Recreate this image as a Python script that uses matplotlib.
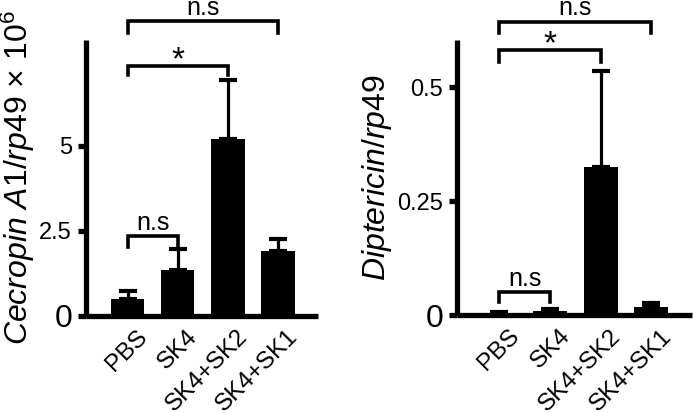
import matplotlib
matplotlib.use("Agg")
import matplotlib.pyplot as plt
from matplotlib.transforms import ScaledTranslation

plt.rcParams['font.family'] = ['Liberation Sans', 'DejaVu Sans']
plt.rcParams['mathtext.fontset'] = 'custom'
plt.rcParams['mathtext.rm'] = 'Liberation Sans'
plt.rcParams['mathtext.it'] = 'Liberation Sans:italic'

groups = ["PBS", "SK4", "SK4+SK2", "SK4+SK1"]

# Cecropin A1 / rp49 (x 10^6)
cec_mean = [0.49, 1.34, 5.20, 1.90]
cec_err = [0.24, 0.62, 1.73, 0.36]
cec_ticks = [0, 2.5, 5]
cec_ticklabels = ["0", "2.5", "5"]
# brackets: (i, j, top, leg bottom, label)
cec_brackets = [(0, 3, 8.67, 8.31, "n.s"), (0, 2, 7.34, 7.08, "*"), (0, 1, 2.34, 2.02, "n.s")]

# Diptericin / rp49
dip_mean = [0.004, 0.009, 0.326, 0.017]
dip_err = [0.002, 0.005, 0.211, 0.009]
dip_ticks = [0, 0.25, 0.5]
dip_ticklabels = ["0", "0.25", "0.5"]
dip_brackets = [(0, 3, 0.644, 0.620, "n.s"), (0, 2, 0.582, 0.556, "*"), (0, 1, 0.0505, 0.0286, "n.s")]

fig = plt.figure(figsize=(6.93, 4.13), dpi=100)
ax1 = fig.add_axes([0.124, 0.235, 0.335, 0.668])
ax2 = fig.add_axes([0.6595, 0.237, 0.339, 0.666])


def draw(ax, mean, err, ticks, ticklabels, ymax, brackets, ylabel):
    x = list(range(len(groups)))
    ax.bar(x, mean, width=0.67, color="black", zorder=2)
    ax.errorbar(x, mean, yerr=[[0] * len(err), err], fmt="none", ecolor="black",
                elinewidth=2.3, capsize=6.3, capthick=3, zorder=1)
    ax.set_xlim(-0.83, 3.8)
    ax.set_ylim(0, ymax)
    for s in ["top", "right"]:
        ax.spines[s].set_visible(False)
    for s in ["left", "bottom"]:
        ax.spines[s].set_linewidth(3.8)
        ax.spines[s].set_capstyle("butt")
    ax.set_yticks(ticks)
    ax.set_yticklabels(ticklabels, fontsize=17)
    ax.get_yticklabels()[0].set_fontsize(23)
    ax.tick_params(axis="y", length=6, width=3.8, pad=4)
    ax.tick_params(axis="x", length=0, pad=7)
    ax.set_xticks(x)
    ax.set_xticklabels(groups, rotation=45, ha="right", va="top", fontsize=17.5,
                       rotation_mode="anchor")
    shift = ScaledTranslation(9 / 100, 0, fig.dpi_scale_trans)
    for t in ax.get_xticklabels():
        t.set_transform(t.get_transform() + shift)
    ax.set_ylabel(ylabel, fontsize=23, labelpad=2)
    for i, j, top, leg, lab in brackets:
        ax.plot([i, i, j, j], [leg, top, top, leg], color="black", lw=2.6,
                clip_on=False, solid_joinstyle="miter")
        if lab == "*":
            ax.annotate(lab, ((i + j) / 2, top), xytext=(0, -7), textcoords="offset points",
                        ha="center", va="bottom", fontsize=24, annotation_clip=False)
        else:
            ax.annotate(lab, ((i + j) / 2, top), xytext=(0, 1), textcoords="offset points",
                        ha="center", va="bottom", fontsize=18, annotation_clip=False)


draw(ax1, cec_mean, cec_err, cec_ticks, cec_ticklabels, 8.11, cec_brackets,
     r"$\it{Cecropin\ A1/rp49}$ × 10$^{6}$")
draw(ax2, dip_mean, dip_err, dip_ticks, dip_ticklabels, 0.604, dip_brackets,
     r"$\it{Diptericin/rp49}$")

fig.savefig("out.png", dpi=100)
